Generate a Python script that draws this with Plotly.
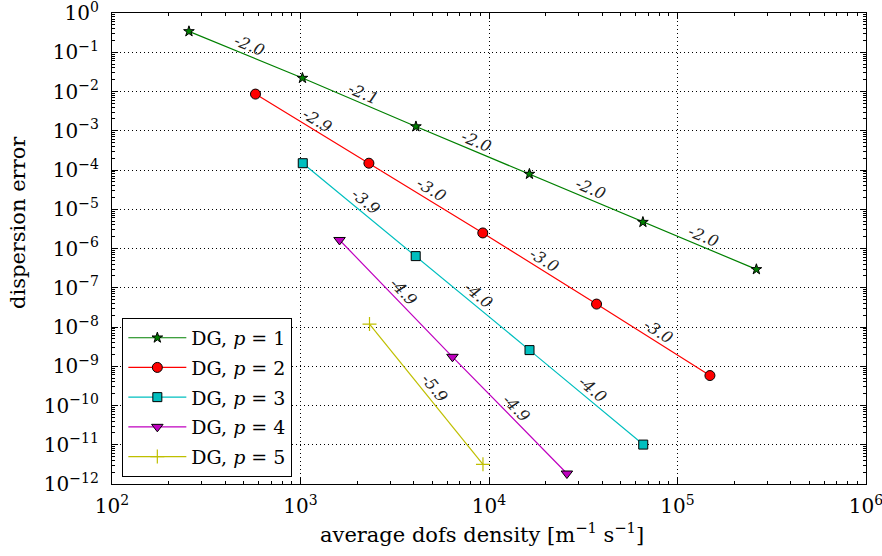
import math
import plotly.graph_objects as go

# ---- data ----
p1_x = [256, 1024, 4096, 16384, 65536, 262144]
p1_y = [0.34, 0.022, 1.28e-3, 7.9e-5, 4.7e-6, 2.94e-7]
p2_x = [577, 2306, 9270, 37200, 148600]
p2_y = [8.6e-3, 1.49e-4, 2.49e-6, 3.84e-8, 5.8e-10]
p3_x = [1028, 4085, 16400, 65800]
p3_y = [1.49e-4, 6.4e-7, 2.58e-9, 1.01e-11]
p4_x = [1611, 6400, 25900]
p4_y = [1.65e-6, 1.74e-9, 1.85e-12]
p5_x = [2323, 9290]
p5_y = [1.19e-8, 3.18e-12]

p1_slopes = ["-2.0", "-2.1", "-2.0", "-2.0", "-2.0"]
p2_slopes = ["-2.9", "-3.0", "-3.0", "-3.0"]
p3_slopes = ["-3.9", "-4.0", "-4.0"]
p4_slopes = ["-4.9", "-4.9"]
p5_slopes = ["-5.9"]

names = ["DG, <i>p</i> = 1", "DG, <i>p</i> = 2", "DG, <i>p</i> = 3",
         "DG, <i>p</i> = 4", "DG, <i>p</i> = 5"]

y_tickvals = [10.0 ** (-k) for k in range(0, 13)]
y_ticktext = ["10<sup>%s</sup>" % ("0" if k == 0 else "\u2212%d" % k) for k in range(0, 13)]
x_tickvals = [1e2, 1e3, 1e4, 1e5, 1e6]
x_ticktext = ["10<sup>2</sup>", "10<sup>3</sup>", "10<sup>4</sup>", "10<sup>5</sup>", "10<sup>6</sup>"]

x_title = "average dofs density [m<sup>\u22121</sup> s<sup>\u22121</sup>]"
y_title = "dispersion error"

series = [
    (p1_x, p1_y, p1_slopes, "#008000", "star", 8),
    (p2_x, p2_y, p2_slopes, "#FF0000", "circle", 10),
    (p3_x, p3_y, p3_slopes, "#00BFBF", "square", 9),
    (p4_x, p4_y, p4_slopes, "#BF00BF", "triangle-down", 10),
    (p5_x, p5_y, p5_slopes, "#BFBF00", "cross-thin", 10),
]

W, H = 882, 556
ml, mr, mt, mb = 112, 16, 13, 72
pw, ph = W - ml - mr, H - mt - mb
xr, yr = (2, 6), (-12, 0.0002)
sx = pw / (xr[1] - xr[0])
sy = ph / (yr[1] - yr[0])

FONT = "DejaVu Serif"
fig = go.Figure()
annotations = []
for i, (xs, ys, slopes, col, sym, sz) in enumerate(series):
    mline = dict(color="black", width=1) if sym != "cross-thin" else dict(color=col, width=1.2)
    fig.add_trace(go.Scatter(
        x=xs, y=ys, mode="lines+markers", name=names[i], legendgroup=str(i),
        line=dict(color=col, width=1.2),
        marker=dict(symbol=sym, size=sz, color=col, line=mline),
    ))
    for j, s in enumerate(slopes):
        lx0, lx1 = math.log10(xs[j]), math.log10(xs[j + 1])
        ly0, ly1 = math.log10(ys[j]), math.log10(ys[j + 1])
        dx = (lx1 - lx0) * sx
        dy = -(ly1 - ly0) * sy
        L = math.hypot(dx, dy)
        ux, uy = dx / L, dy / L
        ang = math.degrees(math.atan2(dy, dx))
        d = 10
        annotations.append(dict(
            x=(lx0 + lx1) / 2, y=(ly0 + ly1) / 2, xref="x", yref="y",
            text="<i>%s</i>" % s, showarrow=False, textangle=ang,
            xshift=d * uy, yshift=d * ux,
            font=dict(family=FONT, size=16, color="#222"),
        ))

# axis titles as paper annotations (placed like the reference)
annotations.append(dict(
    x=(482 - ml) / pw, y=-(533 - (H - mb)) / ph, xref="paper", yref="paper",
    text=x_title, showarrow=False, xanchor="center", yanchor="middle",
    font=dict(family=FONT, size=21, color="black")))
annotations.append(dict(
    x=(18 - ml) / pw, y=((H - mb) - 223) / ph, xref="paper", yref="paper",
    text=y_title, showarrow=False, textangle=-90, xanchor="center", yanchor="middle",
    font=dict(family=FONT, size=21, color="black")))

axis_common = dict(
    type="log", showline=True, mirror="allticks", linecolor="black", linewidth=1.3,
    ticks="inside", ticklen=6, tickcolor="black", tickwidth=1,
    showgrid=True, gridcolor="black", griddash="1px,3px", gridwidth=1,
    zeroline=False, automargin=False, ticklabeloverflow="allow",
    tickfont=dict(family=FONT, size=20, color="black"),
    minor=dict(ticks="inside", ticklen=3, tickcolor="black", showgrid=False, dtick="D1"),
)

fig.update_layout(
    width=W, height=H, margin=dict(l=ml, r=mr, t=mt, b=mb),
    paper_bgcolor="white", plot_bgcolor="white",
    xaxis=dict(axis_common, range=list(xr), tickvals=x_tickvals, ticktext=x_ticktext,
               ticklabelstandoff=4),
    yaxis=dict(axis_common, range=list(yr), tickvals=y_tickvals, ticktext=y_ticktext,
               ticklabelstandoff=8),
    legend=dict(x=0.0137, y=0.3527, xanchor="left", yanchor="top",
                bordercolor="black", borderwidth=1, bgcolor="white",
                font=dict(family=FONT, size=19, color="black"), tracegroupgap=2,
                itemwidth=58),
    annotations=annotations,
    showlegend=True,
)

fig.write_html("out.html")
